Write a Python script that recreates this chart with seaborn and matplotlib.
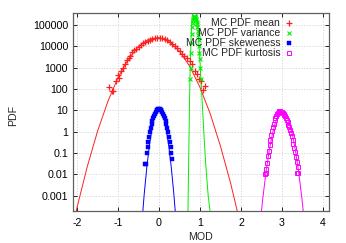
import seaborn as sns
import matplotlib.pyplot as plt
from matplotlib.lines import Line2D
from matplotlib.ticker import NullLocator

# ---- data ----
# fitted curves
mean_fit_x = [-2.2, -2.0, -1.75, -1.5, -1.25, -1.0, -0.75, -0.5, -0.25, 0.0,
              0.25, 0.5, 0.75, 1.0, 1.25, 1.5, 1.75, 2.0]
mean_fit_y = [5.5e-6, 2.9e-4, 0.024, 1.07, 26, 350, 2500, 10000, 21900, 25700,
              16600, 5900, 1150, 120, 6.9, 0.21, 0.0037, 3.5e-5]

var_fit_x = [0.70, 0.715, 0.73, 0.745, 0.76, 0.78, 0.80, 0.83, 0.87, 0.91,
             0.95, 0.99, 1.03, 1.07, 1.11, 1.15, 1.20, 1.25, 1.30]
var_fit_y = [3.2e-5, 3.2e-3, 0.32, 32, 1000, 2e4, 1.6e5, 6.3e5, 1e6, 6.3e5,
             7.9e4, 4000, 160, 6.3, 0.25, 0.016, 1e-3, 1.6e-4, 2.5e-5]

skew_fit_x = [-0.42, -0.36, -0.30, -0.24, -0.18, -0.12, -0.06, 0.0,
              0.06, 0.12, 0.18, 0.24, 0.30, 0.36, 0.42]
skew_fit_y = [4.9e-5, 1.3e-3, 0.020, 0.20, 1.16, 4.1, 8.7, 11.2,
              8.7, 4.1, 1.16, 0.20, 0.020, 1.3e-3, 4.9e-5]

kurt_fit_x = [2.45, 2.53, 2.61, 2.69, 2.77, 2.85, 2.93, 3.01,
              3.09, 3.17, 3.25, 3.33, 3.41, 3.49, 3.57]
kurt_fit_y = [2.2e-5, 6.8e-4, 0.0123, 0.132, 0.83, 3.1, 6.8, 8.9,
              6.8, 3.1, 0.83, 0.132, 0.0123, 6.8e-4, 2.2e-5]

# Monte Carlo points
mean_x = [-1.22, -1.15, -1.12, -1.06, -1.01, -0.97, -0.93, -0.88, -0.84, -0.79,
          -0.74, -0.70, -0.66, -0.61, -0.56, -0.50, -0.45, -0.40, -0.34, -0.28,
          -0.22, -0.16, -0.10, -0.04, 0.02, 0.08, 0.14, 0.20, 0.26, 0.32,
          0.38, 0.44, 0.50, 0.56, 0.62, 0.68, 0.75, 0.81, 0.87, 0.93,
          0.98, 1.03, 1.08, 1.12]
mean_y = [120, 85, 80, 250, 450, 330, 700, 1000, 1500, 2300,
          2700, 3500, 5200, 6500, 7800, 9500, 11500, 14000, 16500, 18500,
          20500, 22000, 23500, 24500, 24000, 23500, 21500, 19000, 16500, 13500,
          10500, 8000, 6000, 4200, 3500, 2800, 2000, 1500, 700, 500,
          300, 250, 90, 140]

var_x = [0.765, 0.775, 0.785, 0.795, 0.805, 0.815, 0.825, 0.835, 0.845, 0.855,
         0.865, 0.875, 0.885, 0.895, 0.905, 0.915, 0.925, 0.935, 0.945, 0.955,
         0.965, 0.975, 0.985, 0.995, 1.005, 1.015]
var_y = [300, 1000, 5000, 15000, 40000, 80000, 130000, 180000, 220000, 250000,
         260000, 250000, 230000, 200000, 170000, 140000, 110000, 80000, 55000, 35000,
         20000, 10000, 5000, 2500, 1000, 300]

skew_x = [-0.34, -0.32, -0.30, -0.28, -0.26, -0.24, -0.22, -0.20, -0.18, -0.16,
          -0.14, -0.12, -0.10, -0.08, -0.06, -0.04, -0.02, 0.0, 0.02, 0.04,
          0.06, 0.08, 0.10, 0.12, 0.14, 0.16, 0.18, 0.20, 0.22, 0.24,
          0.26, 0.28, 0.30, 0.32]
skew_y = [0.03, 0.03, 0.1, 0.19, 0.34, 0.58, 0.93, 1.45, 2.2, 3.1,
          4.3, 5.6, 7.1, 8.5, 10, 11, 11.8, 12, 11.8, 11,
          10, 8.5, 7.1, 5.6, 4.3, 3.1, 2.2, 1.45, 0.93, 0.58,
          0.34, 0.19, 0.1, 0.05]

kurt_x = [2.58, 2.60, 2.62, 2.64, 2.66, 2.68, 2.70, 2.72, 2.74, 2.76,
          2.78, 2.80, 2.82, 2.84, 2.86, 2.88, 2.90, 2.92, 2.94, 2.96,
          2.98, 3.00, 3.02, 3.04, 3.06, 3.08, 3.10, 3.12, 3.14, 3.16,
          3.18, 3.20, 3.22, 3.24, 3.26, 3.28, 3.30, 3.32, 3.34, 3.36,
          3.37, 3.38, 3.39]
kurt_y = [0.011, 0.012, 0.017, 0.035, 0.07, 0.13, 0.25, 0.43, 0.7, 1.1,
          1.7, 2.4, 3.4, 4.4, 5.6, 6.7, 7.7, 8.5, 8.9, 8.9,
          8.7, 8.2, 7.6, 6.9, 6.0, 5.2, 4.3, 3.5, 2.8, 2.1,
          1.6, 1.2, 0.85, 0.6, 0.4, 0.27, 0.17, 0.11, 0.066, 0.04,
          0.012, 0.023, 0.012]

labels = ['MC PDF mean', 'MC PDF variance', 'MC PDF skeweness', 'MC PDF kurtosis']
x_ticks = [-2, -1, 0, 1, 2, 3, 4]
y_ticks = [0.001, 0.01, 0.1, 1, 10, 100, 1000, 10000, 100000]
y_tick_labels = ['0.001', '0.01', '0.1', '1', '10', '100', '1000', '10000', '100000']

RED, GREEN, BLUE, MAGENTA = '#ff2020', '#00ee00', '#0000ff', '#ff00ff'

sns.set_style('ticks')
plt.rcParams['font.family'] = ['Liberation Sans', 'DejaVu Sans']

fig = plt.figure(figsize=(3.46, 2.43), dpi=100)
ax = fig.add_axes([0.211, 0.133, 0.740, 0.815])
ax.set_yscale('log')

# fitted curves
for fx, fy, c in [(mean_fit_x, mean_fit_y, RED), (var_fit_x, var_fit_y, GREEN),
                  (skew_fit_x, skew_fit_y, BLUE), (kurt_fit_x, kurt_fit_y, MAGENTA)]:
    sns.lineplot(x=fx, y=fy, color=c, lw=0.7, estimator=None, sort=False, ax=ax)

# MC points (markers only); seaborn defaults marker edges to white, so set them
point_styles = [
    (mean_x, mean_y, dict(marker='+', color=RED, mec=RED, mfc=RED, ms=4.0, mew=0.9)),
    (var_x, var_y, dict(marker='x', color=GREEN, mec=GREEN, mfc=GREEN, ms=3.2, mew=0.8)),
    (skew_x, skew_y, dict(marker='s', color=BLUE, mec=BLUE, mfc=BLUE, ms=2.3, mew=0.3)),
    (kurt_x, kurt_y, dict(marker='s', color=MAGENTA, mec=MAGENTA, mfc='none',
                          ms=3.0, mew=0.7)),
]
for px, py, st in point_styles:
    sns.lineplot(x=px, y=py, ls='', estimator=None, sort=False, ax=ax, **st)

ax.set_xlim(-2.1, 4.15)
ax.set_ylim(2e-4, 3.8e5)
ax.set_xticks(x_ticks)
ax.set_xticklabels([str(t) for t in x_ticks])
ax.set_yticks(y_ticks)
ax.set_yticklabels(y_tick_labels)
ax.yaxis.set_minor_locator(NullLocator())
ax.tick_params(direction='in', top=True, right=True, length=3, width=0.6,
               labelsize=7.7, colors='#000000')
ax.tick_params(axis='x', pad=5)
ax.tick_params(axis='y', pad=3.5)
ax.grid(True, color='#cccccc', linestyle=(0, (2, 2)), lw=0.5)
for sp in ax.spines.values():
    sp.set_color('#606060')
    sp.set_linewidth(0.9)

ax.set_xlabel('MOD', fontsize=7.7)
ax.set_ylabel('PDF', fontsize=7.7)
ax.xaxis.set_label_coords(0.496, -0.108)
ax.yaxis.set_label_coords(-0.215, 0.483)

handles = [Line2D([], [], ls='none', **st) for _, _, st in point_styles]
ax.legend(handles, labels, loc='upper right', bbox_to_anchor=(0.864, 0.972),
          frameon=False, markerfirst=False, fontsize=7.5, handlelength=1.0,
          handletextpad=0.35, labelspacing=0.0, borderpad=0, borderaxespad=0)

fig.savefig('out.png', dpi=100)
